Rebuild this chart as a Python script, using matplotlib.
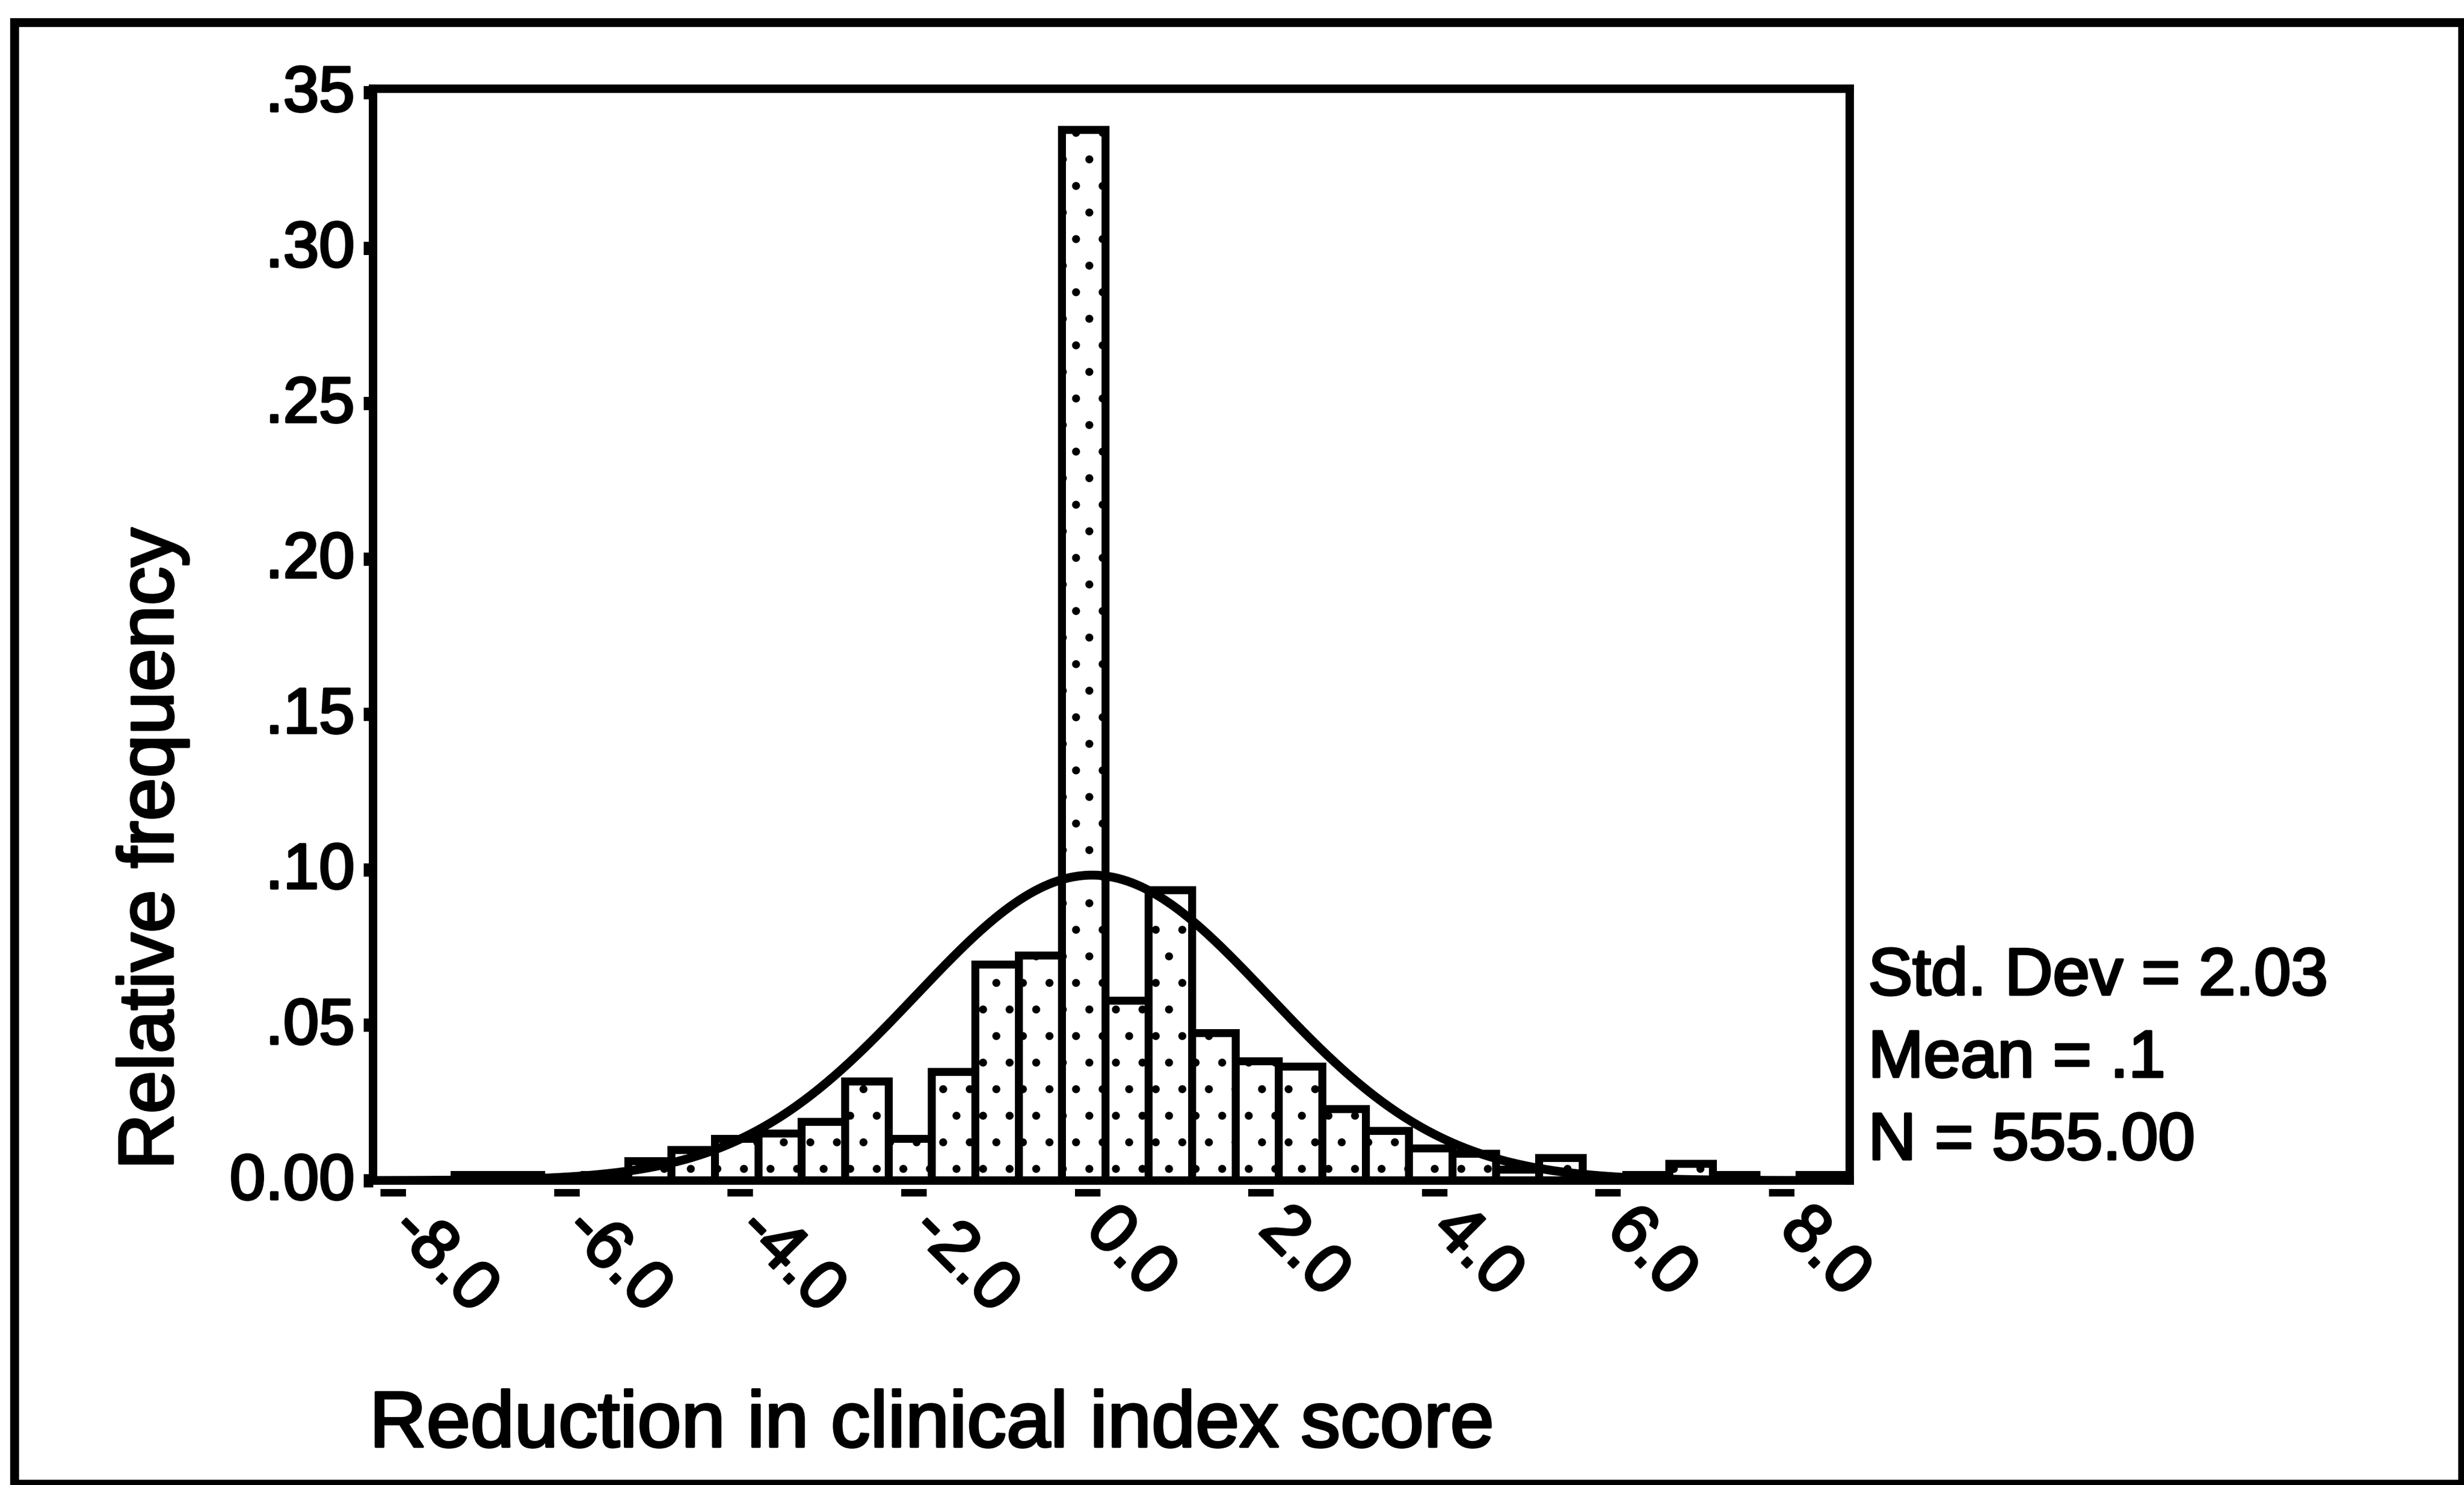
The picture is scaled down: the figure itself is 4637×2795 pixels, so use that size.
import numpy as np
import matplotlib
matplotlib.use("Agg")
import matplotlib.pyplot as plt
import matplotlib.patheffects as pe
from matplotlib import transforms
from matplotlib.patches import Rectangle

# Histogram bins (centre of each 0.5-wide class) and relative frequencies
bin_centers = [-8.0, -7.5, -7.0, -6.5, -6.0, -5.5, -5.0, -4.5, -4.0, -3.5,
               -3.0, -2.5, -2.0, -1.5, -1.0, -0.5, 0.0, 0.5, 1.0, 1.5,
               2.0, 2.5, 3.0, 3.5, 4.0, 4.5, 5.0, 5.5, 6.0, 6.5,
               7.0, 7.5, 8.0, 8.5]
rel_freq = [0.0, 0.0, 0.0018, 0.0018, 0.0, 0.0018, 0.0063, 0.0100, 0.0135, 0.0153,
            0.0190, 0.0320, 0.0135, 0.0350, 0.0695, 0.0725, 0.3380, 0.0580, 0.0935, 0.0475,
            0.0385, 0.0368, 0.0230, 0.0160, 0.0105, 0.0087, 0.0036, 0.0074, 0.0, 0.0018,
            0.0055, 0.0018, 0.0, 0.0018]
BIN_WIDTH = 0.5

# Summary statistics printed beside the plot; the normal curve uses them
STD_DEV = 2.03
MEAN = 0.1
N = 555.00

x_ticks = [-8.0, -6.0, -4.0, -2.0, 0.0, 2.0, 4.0, 6.0, 8.0]
x_tick_labels = ["-8.0", "-6.0", "-4.0", "-2.0", "0.0", "2.0", "4.0", "6.0", "8.0"]
y_ticks = [0.00, 0.05, 0.10, 0.15, 0.20, 0.25, 0.30, 0.35]
y_tick_labels = ["0.00", ".05", ".10", ".15", ".20", ".25", ".30", ".35"]

stats_lines = ["Std. Dev = %.2f" % STD_DEV, "Mean = .1", "N = %.2f" % N]

plt.rcParams["font.family"] = ["Liberation Sans", "DejaVu Sans"]
plt.rcParams["hatch.linewidth"] = 1.2

# slightly heavier glyphs, like a photocopied print
heavy = [pe.withStroke(linewidth=1.1, foreground="black")]

fig = plt.figure(figsize=(4637 / 300, 2795 / 300), dpi=300)
ax = fig.add_axes([0.1514, 0.205, 0.5993, 0.7352])

# bars with a sparse stipple
ax.bar(bin_centers, rel_freq, width=BIN_WIDTH, facecolor="white",
       edgecolor="black", linewidth=3.6, hatch=".", zorder=2)

# fitted normal curve, scaled to relative frequency per bin
xs = np.linspace(-8.18, 8.83, 600)
ys = BIN_WIDTH * np.exp(-0.5 * ((xs - MEAN) / STD_DEV) ** 2) / (STD_DEV * np.sqrt(2 * np.pi))
ax.plot(xs, ys, color="black", linewidth=4.0, zorder=3)

ax.set_xlim(-8.187, 8.83)
ax.set_ylim(0, 0.3512)

for sp in ax.spines.values():
    sp.set_linewidth(3.8)
    sp.set_zorder(4)

# y axis
ax.set_yticks(y_ticks)
ax.set_yticklabels(y_tick_labels)
ax.tick_params(axis="y", direction="out", length=4.3, width=6, pad=4, labelsize=29)
for lab in ax.get_yticklabels():
    lab.set_transform(lab.get_transform() + transforms.ScaledTranslation(0, 2 / 72, fig.dpi_scale_trans))
    lab.set_path_effects(heavy)

# x axis: rotated labels, short horizontal dashes under the axis as tick marks
ax.set_xticks(x_ticks)
ax.set_xticklabels(x_tick_labels, rotation=-45, ha="left", va="top",
                   rotation_mode="anchor")
ax.tick_params(axis="x", length=0, pad=7, labelsize=31)
for lab in ax.get_xticklabels():
    lab.set_transform(lab.get_transform() + transforms.ScaledTranslation(16 / 72, 0, fig.dpi_scale_trans))
    lab.set_path_effects(heavy)

dash_trans = ax.get_xaxis_transform() + transforms.ScaledTranslation(1.8 / 72, -5.5 / 72, fig.dpi_scale_trans)
ax.plot(x_ticks, [0] * len(x_ticks), linestyle="none", marker="_", markersize=11.3,
        markeredgewidth=3.4, color="black", transform=dash_trans, clip_on=False)

# axis titles
fig.text(0.0619, 0.4286, "Relative frequency", rotation=90, fontsize=35,
         ha="center", va="center", path_effects=heavy)
fig.text(0.1499, 0.0258, "Reduction in clinical index score", fontsize=35.7,
         ha="left", va="baseline", path_effects=heavy)

# summary statistics
for line, yb in zip(stats_lines, [0.3302, 0.2748, 0.2193]):
    fig.text(0.7582, yb, line, fontsize=30, ha="left", va="baseline", path_effects=heavy)

# outer frame around the whole figure
fig.patches.append(Rectangle((0.0058, 0.0007), 0.9936, 0.9843, transform=fig.transFigure,
                             fill=False, edgecolor="black", linewidth=4.0))

fig.savefig("out.png", dpi=300, facecolor="white")
